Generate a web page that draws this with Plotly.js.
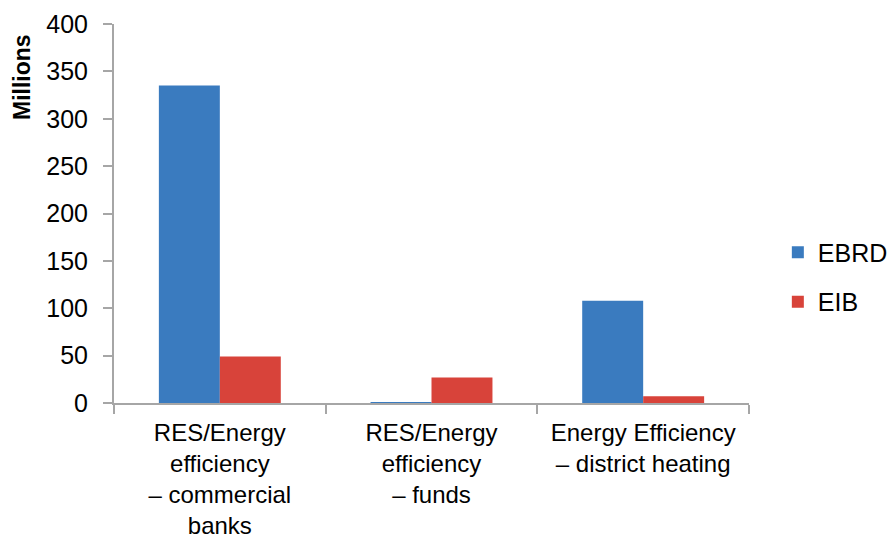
<!DOCTYPE html>
<html>
<head>
<meta charset="utf-8">
<script src="https://cdn.plot.ly/plotly-3.0.1.min.js"></script>
<style>html,body{margin:0;padding:0;background:#fff;}#chart{width:891px;height:543px;}</style>
</head>
<body>
<div id="chart"></div>
<script>
const categories = ["RES/Energy<br>efficiency<br>– commercial<br>banks", "RES/Energy<br>efficiency<br>– funds", "Energy Efficiency<br>– district heating"];
const ebrdValues = [335, 1, 108];
const eibValues = [49, 27, 7];
const seriesNames = ["EBRD", "EIB"];
const yTickVals = [0, 50, 100, 150, 200, 250, 300, 350, 400];
const yTitle = "Millions";

const FONT = "Liberation Sans, Arial, sans-serif";
const axisColor = "#a6a6a6";

const traces = [
  {type: "bar", name: seriesNames[0], x: categories, y: ebrdValues, legendgroup: "a",
   marker: {color: "#3a7bbf"}},
  {type: "bar", name: seriesNames[1], x: categories, y: eibValues, legendgroup: "b",
   marker: {color: "#d8433a"}}
];

const layout = {
  width: 891, height: 543,
  margin: {l: 114, r: 142, t: 24, b: 140, pad: 0, autoexpand: false},
  paper_bgcolor: "#fff", plot_bgcolor: "#fff",
  font: {family: FONT, color: "#000", size: 24},
  barmode: "group", bargap: 0.424, bargroupgap: 0,
  showlegend: true,
  legend: {xref: "container", yref: "container", x: 0.873, y: 0.49, xanchor: "left", yanchor: "middle",
    font: {family: FONT, size: 25, color: "#000"}, traceorder: "grouped", tracegroupgap: 14,
    bgcolor: "rgba(0,0,0,0)"},
  xaxis: {type: "category", showgrid: false, showline: true, linecolor: axisColor, linewidth: 2,
    ticks: "outside", tickson: "boundaries", ticklen: 9, tickwidth: 2, tickcolor: axisColor,
    tickfont: {family: FONT, size: 24, color: "#000"}, zeroline: false, ticklabelstandoff: 7,
    automargin: false},
  yaxis: {range: [0, 400], tickvals: yTickVals, showgrid: false, showline: true, linecolor: axisColor,
    linewidth: 2, ticks: "outside", ticklen: 9, tickwidth: 2, tickcolor: axisColor,
    tickfont: {family: FONT, size: 25, color: "#000"}, zeroline: false, ticklabelstandoff: 10,
    automargin: false},
  annotations: [{text: "<b>" + yTitle + "</b>", xref: "paper", yref: "paper", x: -0.145, y: 0.86,
    textangle: -90, showarrow: false, font: {family: FONT, size: 23, color: "#000"},
    xanchor: "center", yanchor: "middle"}]
};

Plotly.newPlot("chart", traces, layout, {displayModeBar: false, staticPlot: true});
</script>
</body>
</html>
